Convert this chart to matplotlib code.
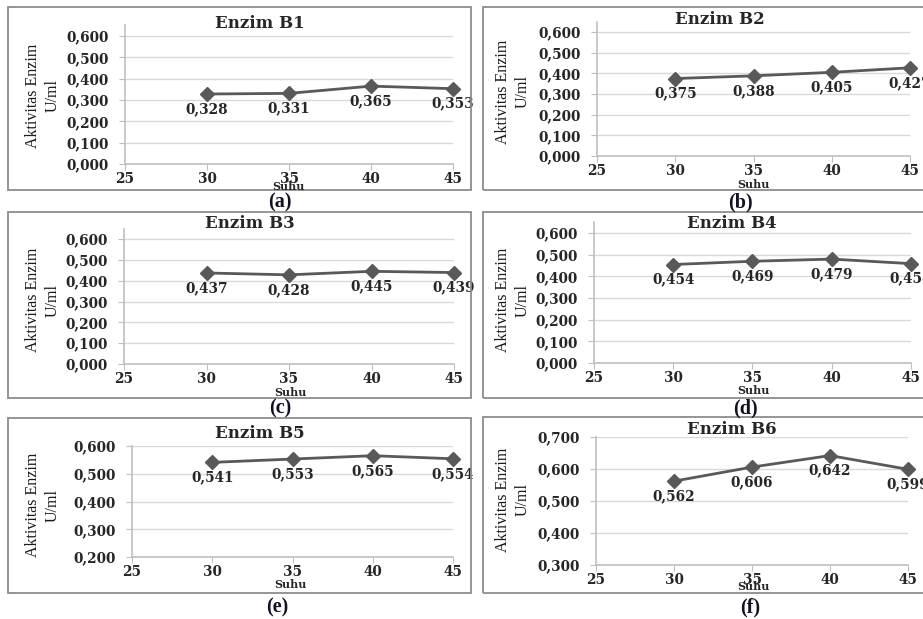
import matplotlib
matplotlib.use('Agg')
import matplotlib.pyplot as plt
import matplotlib.patches as patches
import numpy as np

W, H = 923, 619

suhu = [30, 35, 40, 45]
titles = ['Enzim B1', 'Enzim B2', 'Enzim B3', 'Enzim B4', 'Enzim B5', 'Enzim B6']
panel_tags = ['(a)', '(b)', '(c)', '(d)', '(e)', '(f)']
b1 = [0.328, 0.331, 0.365, 0.353]
b2 = [0.375, 0.388, 0.405, 0.427]
b3 = [0.437, 0.428, 0.445, 0.439]
b4 = [0.454, 0.469, 0.479, 0.458]
b5 = [0.541, 0.553, 0.565, 0.554]
b6 = [0.562, 0.606, 0.642, 0.599]
series = [b1, b2, b3, b4, b5, b6]
y_ranges = [(0.0, 0.65, 0.6), (0.0, 0.65, 0.6), (0.0, 0.65, 0.6),
            (0.0, 0.65, 0.6), (0.2, 0.6, 0.6), (0.3, 0.7, 0.7)]

# pixel layout: plot area (left, right, bottom, top), box (x0, x1, y0, y1)
plot_px = [(125, 453, 164, 25.3), (597, 910, 156, 21.7),
           (124, 454, 364, 228.6), (594, 911, 363, 222),
           (132, 453, 557, 446), (596, 908, 565, 437)]
box_px = [(8, 471, 7, 190), (483, 925, 7, 190),
          (8, 471, 212, 398), (483, 925, 212, 398),
          (8, 471, 418, 593), (483, 925, 417, 593)]
title_px = [(260, 23), (720, 20), (250, 224), (732, 224), (260, 434), (732, 430)]
tag_px = [(280, 202), (740, 202), (280, 408), (745, 408), (277, 607), (750, 607)]
ylab_px = [(43, 96), (513, 92), (43, 300), (513, 300), (43, 505), (513, 500)]
suhu_px = [(288, 186), (753, 184), (290, 392), (753, 391), (290, 585), (753, 587)]

serif = 'DejaVu Serif'
line_col = '#595959'

fig = plt.figure(figsize=(W / 100, H / 100), dpi=100)

def fx(x):
    return x / W

def fy(y):
    return 1 - y / H

for i in range(6):
    x0, x1, y0, y1 = box_px[i]
    fig.patches.append(patches.Rectangle((fx(x0), fy(y1)), fx(x1 - x0), (y1 - y0) / H,
                                         transform=fig.transFigure, fill=False,
                                         edgecolor='#8c8c8c', linewidth=1.3))
    l, r, b, t = plot_px[i]
    ax = fig.add_axes([fx(l), fy(b), fx(r - l), (b - t) / H])
    lo, hi, tmax = y_ranges[i]
    ax.plot(suhu, series[i], color=line_col, linewidth=2, marker='D', markersize=7,
            clip_on=False, zorder=3)
    for xv, yv in zip(suhu, series[i]):
        ax.annotate(('%.3f' % yv).replace('.', ','), (xv, yv), xytext=(0, -15),
                    textcoords='offset pixels', ha='center', va='center',
                    fontsize=9.8, fontweight='bold', family=serif, color='#262626',
                    annotation_clip=False)
    ax.set_xlim(25, 45)
    ax.set_ylim(lo, hi)
    ax.set_xticks([25, 30, 35, 40, 45])
    ax.set_xticklabels(['25', '30', '35', '40', '45'])
    yt = np.round(np.arange(lo, tmax + 0.001, 0.1), 3)
    ax.set_yticks(yt)
    ax.set_yticklabels([('%.3f' % v).replace('.', ',') for v in yt])
    for lab in ax.get_xticklabels() + ax.get_yticklabels():
        lab.set_family(serif)
        lab.set_fontweight('bold')
        lab.set_fontsize(9.8)
        lab.set_color('#262626')
    ax.tick_params(axis='both', length=4, color='#bfbfbf')
    ax.tick_params(axis='x', pad=2)
    ax.tick_params(axis='y', pad=8)
    ax.grid(axis='y', color='#d9d9d9', linewidth=1)
    ax.set_axisbelow(True)
    for s in ['top', 'right']:
        ax.spines[s].set_visible(False)
    for s in ['left', 'bottom']:
        ax.spines[s].set_color('#bfbfbf')
        ax.spines[s].set_linewidth(1.2)
    ax.patch.set_alpha(0)

    fig.text(fx(title_px[i][0]), fy(title_px[i][1]), titles[i], ha='center', va='center',
             fontsize=12, fontweight='bold', family=serif, color='#262626')
    fig.text(fx(tag_px[i][0]), fy(tag_px[i][1]), panel_tags[i], ha='center', va='center',
             fontsize=14.5, fontweight='bold', family='Liberation Serif', color='#111122')
    fig.text(fx(ylab_px[i][0]), fy(ylab_px[i][1]), 'Aktivitas Enzim\nU/ml', ha='center',
             va='center', rotation=90, fontsize=11.5, family='Liberation Serif',
             color='#1a1a1a', linespacing=1.3, multialignment='center')
    fig.text(fx(suhu_px[i][0]), fy(suhu_px[i][1]), 'Suhu', ha='center', va='center',
             fontsize=8, fontweight='bold', family=serif, color='#262626')

fig.savefig('out.png', dpi=100)
